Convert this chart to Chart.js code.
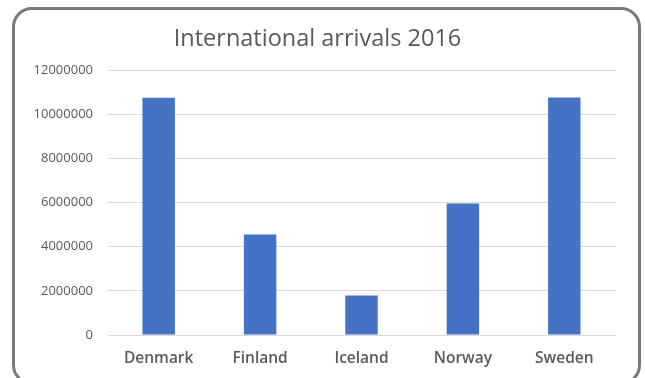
<!DOCTYPE html>
<html>
<head>
<meta charset="utf-8">
<script src="https://cdn.jsdelivr.net/npm/chart.js@4"></script>
<style>
  html, body { margin: 0; padding: 0; background: #fff; overflow: hidden; }
  #frame {
    position: absolute; left: 12px; top: 7px; width: 623px; height: 372px;
    border: 3px solid #7a7a7a; border-radius: 20px; background: #fff;
  }
  #wrap { position: absolute; left: 0; top: 0; width: 645px; height: 378px; }
</style>
</head>
<body>
<div id="frame"></div>
<div id="wrap"><canvas id="barChart"></canvas></div>
<script>
const countries = ['Denmark', 'Finland', 'Iceland', 'Norway', 'Sweden'];
const arrivals = [10750000, 4560000, 1790000, 5960000, 10760000];
const yTicks = [0, 2000000, 4000000, 6000000, 8000000, 10000000, 12000000];

(async function() {
    Chart.defaults.color = '#595959';
    Chart.defaults.font.family = '"Open Sans", sans-serif';
    window.arrivalsChart = new Chart(
        document.getElementById('barChart'),
        {
            type: 'bar',
            data: {
                labels: countries,
                datasets: [
                    {
                        label: 'International arrivals 2016',
                        data: arrivals,
                        backgroundColor: '#4472c4',
                        borderWidth: 0,
                        categoryPercentage: 1,
                        barPercentage: 0.32
                    }
                ]
            },
            options: {
                responsive: true,
                maintainAspectRatio: false,
                animation: false,
                layout: { padding: { left: 20, right: 30, top: 0, bottom: 0 } },
                plugins: {
                    legend: { display: false },
                    tooltip: { enabled: false },
                    title: {
                        display: true,
                        text: 'International arrivals 2016',
                        color: '#595959',
                        font: { size: 23.5, weight: 'normal' },
                        padding: { top: 25, bottom: 17 }
                    }
                },
                scales: {
                    x: {
                        grid: { display: false, drawTicks: false },
                        border: { display: true, color: '#d9d9d9' },
                        ticks: { padding: 14, font: { size: 15.5, weight: '600' } },
                        afterFit: s => { s.height = 43; }
                    },
                    y: {
                        min: 0,
                        max: 12000000,
                        afterBuildTicks: s => { s.ticks = yTicks.map(v => ({ value: v })); },
                        grid: { color: '#d9d9d9', drawTicks: false },
                        border: { display: false },
                        ticks: { padding: 15, font: { size: 13 }, callback: v => String(v) },
                        afterFit: s => { s.width = 88; }
                    }
                }
            }
        }
    );
})();
</script>
</body>
</html>
